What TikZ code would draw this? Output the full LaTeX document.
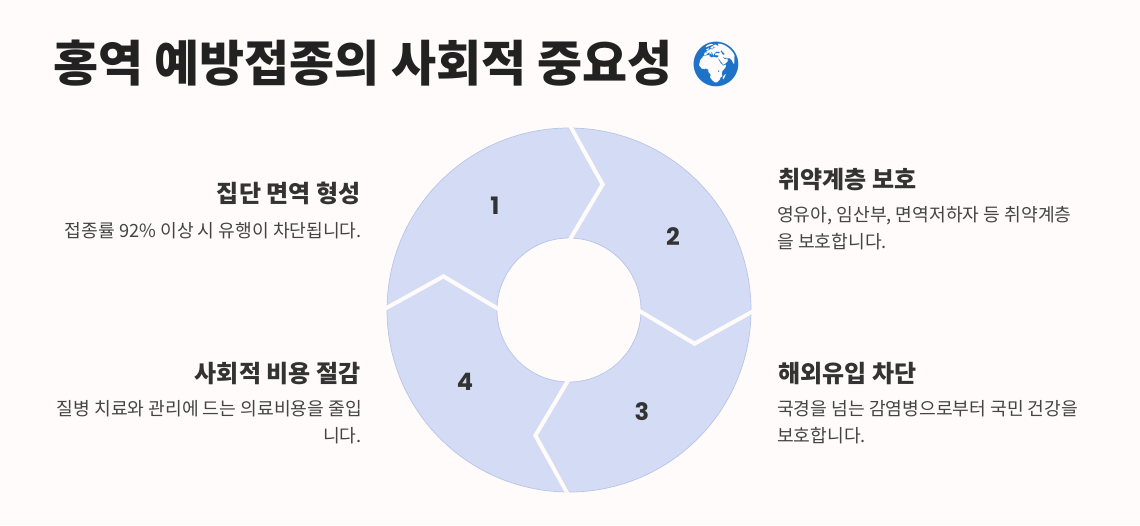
\documentclass[tikz,border=0pt]{standalone}
\usepackage{fontspec}
\setmainfont{Noto Sans CJK KR}
\newfontfamily\numfont{Poppins}
\newfontfamily\emo{Noto Emoji}
\definecolor{bg}{HTML}{FFFBFA}
\definecolor{segfill}{HTML}{D4DCF5}
\definecolor{segline}{HTML}{B8C4E8}
\definecolor{ink}{HTML}{222222}
\definecolor{head}{HTML}{333333}
\definecolor{desc}{HTML}{444444}
\definecolor{globeblue}{HTML}{1E73C8}
\begin{document}
\begin{tikzpicture}[x=1pt,y=1pt,
  seg/.style={fill=segfill,draw=segline,line width=0.7pt},
  gap/.style={draw=bg,line width=4pt,line join=miter},
  num/.style={font=\numfont\bfseries\fontsize{24}{28}\selectfont,text=head},
  headR/.style={anchor=east,font=\fontsize{24}{28}\selectfont\bfseries,text=head},
  headL/.style={anchor=west,font=\fontsize{24}{28}\selectfont\bfseries,text=head},
  descR/.style={anchor=north east,align=right,font=\fontsize{18.2}{27}\selectfont,text=desc,inner sep=0pt},
  descL/.style={anchor=north west,align=left,font=\fontsize{18.2}{27}\selectfont,text=desc,inner sep=0pt}]
\fill[bg] (0,0) rectangle (1140,525);
\useasboundingbox (0,0) rectangle (1140,525);
\coordinate (C) at (569,215);
\foreach \a in {180,90,0,-90}{
  \pgfmathsetmacro\b{\a-90}
  \pgfmathsetmacro\c{\a-105}
  \pgfmathsetmacro\d{\a-15}
  \path[seg] ([shift={(C)}]\a:182) arc[start angle=\a,end angle=\b,radius=182]
    -- ([shift={(C)}]\c:130) -- ([shift={(C)}]\b:72)
    arc[start angle=\b,end angle=\a,radius=72]
    -- ([shift={(C)}]\d:130) -- cycle;
}
\foreach \a in {180,90,0,-90}{
  \pgfmathsetmacro\d{\a-15}
  \draw[gap] ([shift={(C)}]\a:186) -- ([shift={(C)}]\d:130) -- ([shift={(C)}]\a:69);
}
\node[num] (n1) at (495,319) {1};
\node[num] (n2) at (673,288) {2};
\node[num] (n3) at (642,113) {3};
\node[num] (n4) at (465,143) {4};
\node[anchor=base west,inner sep=0pt,font=\fontsize{49}{54}\selectfont\bfseries,text=ink] (title) at (53,443) {홍역 예방접종의 사회적 중요성};
\node[inner sep=0pt,font=\emo\fontsize{44}{48}\selectfont,text=globeblue] (globe) at (716,461) {🌍};
\node[headR] (h1) at (364,332) {집단 면역 형성};
\node[descR] (d1) at (362,303) {접종률 92\% 이상 시 유행이 차단됩니다.};
\node[headL] (h2) at (775,345) {취약계층 보호};
\node[descL] (d2) at (777,319) {영유아, 임산부, 면역저하자 등 취약계층\\을 보호합니다.};
\node[headR] (h4) at (364,151) {사회적 비용 절감};
\node[descR] (d4) at (362,125) {질병 치료와 관리에 드는 의료비용을 줄입\\니다.};
\node[headL] (h3) at (775,151) {해외유입 차단};
\node[descL] (d3) at (777,125) {국경을 넘는 감염병으로부터 국민 건강을\\보호합니다.};
\end{tikzpicture}
\end{document}
